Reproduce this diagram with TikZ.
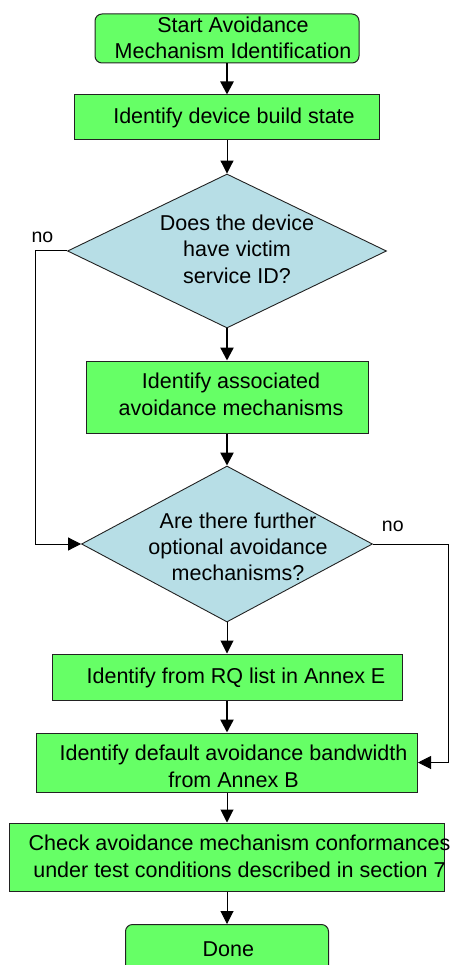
\documentclass[tikz,border=0pt]{standalone}
\usepackage{fontspec}
\setmainfont{Liberation Sans}
\usetikzlibrary{shapes.geometric,arrows.meta}
\definecolor{boxgreen}{HTML}{66FF66}
\definecolor{dblue}{HTML}{B7DEE6}
\definecolor{edge}{HTML}{222222}
\tikzset{
  boxshape/.style={draw=edge, line width=1pt, fill=boxgreen, inner sep=0pt},
  decshape/.style={draw=edge, line width=0.9pt, fill=dblue, diamond, inner sep=0pt, aspect=2},
  txt/.style={inner sep=0pt, align=center, font=\fontsize{21.5}{26.3}\selectfont,
     execute at begin node=\strut, execute at end node=\strut},
  nolabel/.style={inner sep=0pt, font=\fontsize{19.5}{23}\selectfont, anchor=base},
  thinarrow/.style={line width=1pt, -{Triangle[width=13pt,length=13pt]}},
  thickarrow/.style={line width=2.4pt, -{Triangle[width=13pt,length=13pt]}},
  thinline/.style={line width=1pt},
}
\begin{document}
\begin{tikzpicture}[x=1pt,y=-1pt]
\useasboundingbox (0,0) rectangle (457,965);
\clip (0,0) rectangle (457,965);
% shapes
\node[boxshape, rounded corners=7pt, minimum width=264pt, minimum height=49pt] (start) at (227,38.5) {};
\node[boxshape, minimum width=305pt, minimum height=45pt] (b2) at (227,117.5) {};
\node[decshape, minimum width=319pt, minimum height=154pt] (d1) at (227,251) {};
\node[boxshape, minimum width=282pt, minimum height=72pt] (b3) at (227,397) {};
\node[decshape, minimum width=291pt, minimum height=156pt] (d2) at (227,544) {};
\node[boxshape, minimum width=350pt, minimum height=46pt] (b4) at (227,677) {};
\node[boxshape, minimum width=381pt, minimum height=59pt] (b5) at (227,762.5) {};
\node[boxshape, minimum width=435pt, minimum height=68pt] (b6) at (227,857) {};
\node[boxshape, rounded corners=7pt, minimum width=203pt, minimum height=60pt, anchor=north] (done) at (227,924) {};
% texts
\node[txt] (tstart) at (233,41.7) {Start Avoidance\\Mechanism Identification};
\node[txt] (tb2) at (234,118.7) {Identify device build state};
\node[txt] (td1) at (237,253.1) {Does the device\\have victim\\service ID?};
\node[txt] (tb3) at (231,398.1) {Identify associated\\avoidance mechanisms};
\node[txt] (td2) at (238,550.6) {Are there further\\optional avoidance\\mechanisms?};
\node[txt] (tb4) at (236,678.7) {Identify from RQ list in Annex E};
\node[txt] (tb5) at (233.5,770.2) {Identify default avoidance bandwidth\\from Annex B};
\node[txt] (tb6) at (239.5,860.2) {Check avoidance mechanism conformances\\under test conditions described in section 7};
\node[txt] (tdone) at (228.3,951.4) {Done};
\node[nolabel] (no1) at (42.5,242.7) {no};
\node[nolabel] (no2) at (392.8,531) {no};
% connectors
\draw[thickarrow] (start.south) -- (b2.north);
\draw[thinarrow] (b2.south) -- (d1.north);
\draw[thickarrow] (d1.south) -- (b3.north);
\draw[thickarrow] (b3.south) -- (d2.north);
\draw[thinarrow] (d2.south) -- (b4.north);
\draw[thickarrow] (b4.south) -- (b5.north);
\draw[thinarrow] (b5.south) -- (b6.north);
\draw[thinarrow] (b6.south) -- (done.north);
\draw[thinarrow] (d1.west) -- ++(-32,0) |- (d2.west);
\draw[thinarrow] (d2.east) -- ++(75.5,0) |- (b5.east);
\end{tikzpicture}
\end{document}
